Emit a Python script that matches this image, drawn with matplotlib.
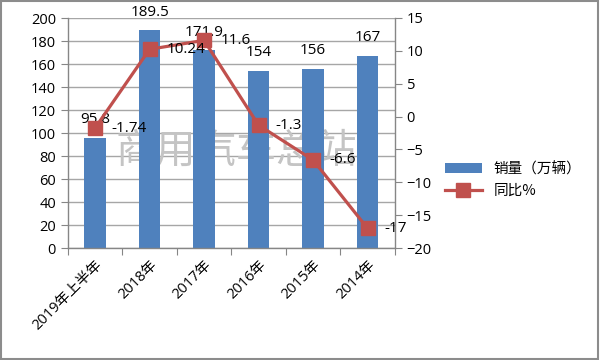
import matplotlib
matplotlib.use('Agg')
import matplotlib.pyplot as plt
from matplotlib.patches import Rectangle

plt.rcParams['font.family'] = ['Open Sans', 'Noto Sans CJK SC', 'DejaVu Sans']

# data
years = ['2019年上半年', '2018年', '2017年', '2016年', '2015年', '2014年']
sales = [95.8, 189.5, 171.9, 154, 156, 167]
growth = [-1.74, 10.24, 11.6, -1.3, -6.6, -17]

bar_color = '#4F81BD'
line_color = '#C0504D'
grid_color = '#A6A6A6'

fig = plt.figure(figsize=(6, 3.6), dpi=100)
ax = fig.add_axes([0.113, 0.311, 0.545, 0.639])
ax2 = ax.twinx()

x = list(range(len(years)))
bars = ax.bar(x, sales, width=0.4, color=bar_color, label='销量（万辆）', zorder=2)
line, = ax2.plot(x, growth, color=line_color, lw=2.3, marker='s', ms=9.5,
                 label='同比%', zorder=3)

ax.set_xlim(-0.5, len(years) - 0.5)
ax.set_ylim(0, 200)
ax.set_yticks(range(0, 201, 20))
ax2.set_ylim(-20, 15)
ax2.set_yticks(range(-20, 16, 5))

ax.yaxis.grid(True, color=grid_color, lw=1, zorder=0)
ax.set_axisbelow(True)
for a in (ax, ax2):
    for s in a.spines.values():
        s.set_visible(False)
ax.spines['left'].set_visible(True)
ax.spines['bottom'].set_visible(True)
ax2.spines['right'].set_visible(True)
for s in (ax.spines['left'], ax.spines['bottom'], ax2.spines['right']):
    s.set_color('#868686')
    s.set_linewidth(1)

# tick marks between categories, labels centred under bars
ax.set_xticks([i - 0.5 for i in range(len(years) + 1)])
ax.set_xticklabels([])
ax.tick_params(axis='x', length=5, color='#868686', direction='out')
ax.set_xticks(x, minor=True)
ax.set_xticklabels(years, minor=True, rotation=45, ha='right', rotation_mode='anchor',
                   fontsize=10.5)
ax.tick_params(axis='x', which='minor', length=0, pad=7)
ax.tick_params(axis='y', length=5, color='#868686', labelsize=10.5)
ax2.tick_params(axis='y', length=5, color='#868686', labelsize=10.5)

for i, v in enumerate(sales):
    ax.annotate(f'{v:g}', (i, v), xytext=(0, 13), textcoords='offset points',
                ha='center', va='center', fontsize=11)
for i, v in enumerate(growth):
    ax2.annotate(f'{v:g}', (i, v), xytext=(12, 0), textcoords='offset points',
                 ha='left', va='center', fontsize=11, zorder=4)

ax.text(0.515, 0.42, '商用汽车总站', transform=ax.transAxes, fontsize=29,
        color='#C4C4C4', family=['Noto Sans CJK SC'], fontweight='light',
        ha='center', va='center', zorder=1)

fig.legend(handles=[bars, line], loc='center left', bbox_to_anchor=(0.72, 0.5),
           frameon=False, handlelength=2.5, labelspacing=0.55,
           prop={'family': ['Noto Sans CJK SC'], 'size': 10.5})

fig.patches.append(Rectangle((0.002, 0.003), 0.995, 0.993, transform=fig.transFigure,
                             fill=False, edgecolor='#8C8C8C', lw=1.5))

fig.savefig('out.png', dpi=100)
